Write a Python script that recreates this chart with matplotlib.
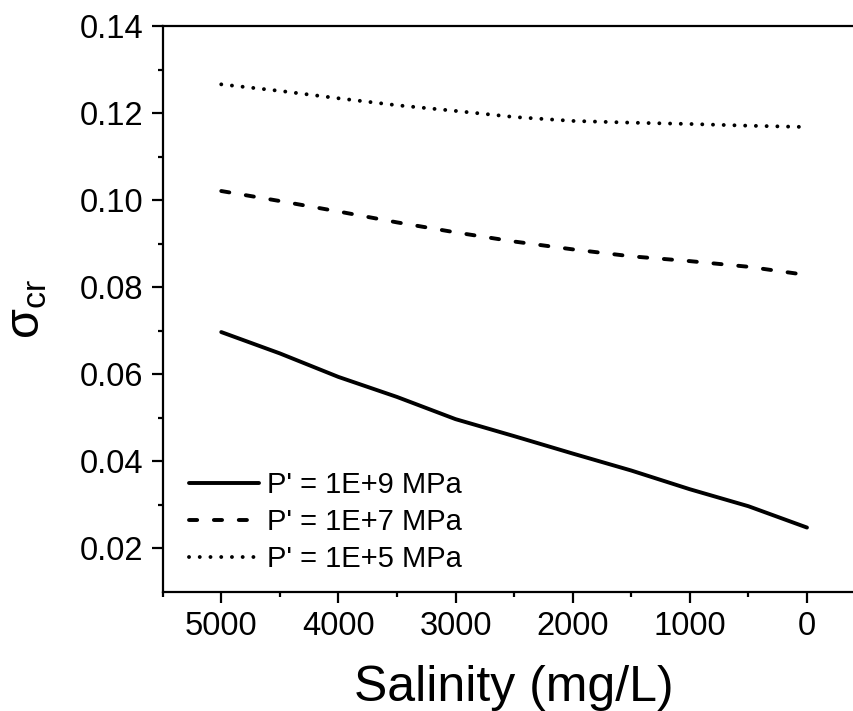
import matplotlib
matplotlib.use("Agg")
import matplotlib.pyplot as plt

plt.rcParams["font.family"] = ["Liberation Sans", "DejaVu Sans"]
plt.rcParams["mathtext.fontset"] = "custom"
plt.rcParams["mathtext.rm"] = "Liberation Sans"
plt.rcParams["mathtext.it"] = "Liberation Sans:italic"

# salinity (mg/L), plotted on a reversed axis
salinity = [5000, 4500, 4000, 3500, 3000, 2500, 2000, 1500, 1000, 500, 0]
sigma_1e9 = [0.0697, 0.0648, 0.0594, 0.0548, 0.0497, 0.0458, 0.0418,
             0.0379, 0.0336, 0.0297, 0.0248]
sigma_1e7 = [0.1021, 0.0998, 0.0974, 0.0949, 0.0926, 0.0905, 0.0887,
             0.0871, 0.0860, 0.0847, 0.0828]
sigma_1e5 = [0.1266, 0.1251, 0.1234, 0.1218, 0.1205, 0.1191, 0.1182,
             0.1178, 0.1175, 0.1171, 0.1168]
labels = ["P' = 1E+9 MPa", "P' = 1E+7 MPa", "P' = 1E+5 MPa"]

fig = plt.figure(figsize=(8.54, 7.11), dpi=100)
# right spine falls outside the cropped image, as in the original
ax = fig.add_axes([0.1905, 0.1674, 0.823, 0.796])

lw = 2.8
ax.plot(salinity, sigma_1e9, color="k", lw=lw, ls="-",
        solid_capstyle="round", label=labels[0])
ax.plot(salinity, sigma_1e7, color="k", lw=lw, ls=(0, (2.1, 4.3)),
        dash_capstyle="round", label=labels[1])
ax.plot(salinity, sigma_1e5, color="k", lw=lw, ls=(0, (0.01, 2.75)),
        dash_capstyle="round", label=labels[2])

ax.set_xlim(5500, -500)
ax.set_ylim(0.01, 0.14)
ax.set_xticks([5000, 4000, 3000, 2000, 1000, 0])
ax.set_xticks([5500, 4500, 3500, 2500, 1500, 500], minor=True)
ax.set_yticks([0.02, 0.04, 0.06, 0.08, 0.10, 0.12, 0.14])
ax.set_yticks([0.03, 0.05, 0.07, 0.09, 0.11, 0.13], minor=True)
ax.set_yticklabels([f"{v:.2f}" for v in ax.get_yticks()])

for s in ax.spines.values():
    s.set_linewidth(1.6)
ax.tick_params(which="major", direction="out", length=8, width=1.6,
               labelsize=23.5, pad=6)
ax.tick_params(which="minor", direction="out", length=3.5, width=1.6)

ax.set_xlabel("Salinity (mg/L)", fontsize=36, labelpad=16)
ax.set_ylabel(r"$\mathrm{\sigma}_{\mathrm{cr}}$", fontsize=35, labelpad=22)

ax.legend(loc="lower left", frameon=False, fontsize=21, handlelength=2.4,
          handletextpad=0.25, labelspacing=0.3, borderaxespad=0.2,
          bbox_to_anchor=(0.013, 0.003))

fig.savefig("out.png", dpi=100)
